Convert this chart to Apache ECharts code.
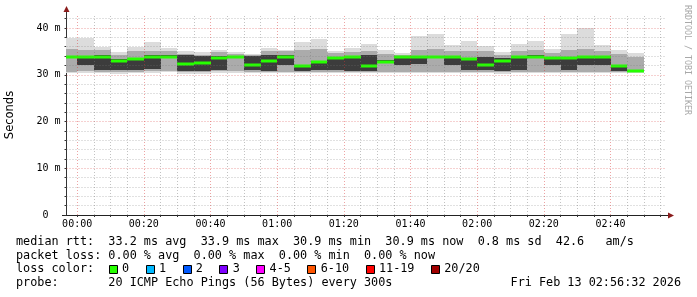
<!DOCTYPE html>
<html><head><meta charset="utf-8">
<script src="https://cdn.jsdelivr.net/npm/echarts@6/dist/echarts.min.js"></script>
<style>html,body{margin:0;padding:0;background:#fff}#c{width:697px;height:297px}</style>
</head><body><div id="c"></div>
<script>
// 5-minute slots (end time of each RRD step)
const times = ["00:00","00:05","00:10","00:15","00:20","00:25","00:30","00:35","00:40","00:45",
  "00:50","00:55","01:00","01:05","01:10","01:15","01:20","01:25","01:30","01:35",
  "01:40","01:45","01:50","01:55","02:00","02:05","02:10","02:15","02:20","02:25",
  "02:30","02:35","02:40","02:45","02:50"];
// median RTT (ms)
const medianRtt = [33.9,33.8,33.8,33.0,33.3,33.9,33.9,32.4,32.6,33.65,
  33.7,32.15,32.9,33.8,31.9,32.65,33.6,33.7,31.9,32.8,
  33.8,33.8,33.8,33.8,33.4,32.15,33.0,33.9,33.9,33.6,
  33.65,33.9,33.8,31.9,30.9];
// outer smoke (lightest): min / max ping
const smokeMin = [30.3,30.4,30.3,30.2,30.3,30.4,30.5,30.2,30.2,30.4,
  30.4,30.3,30.3,30.3,30.4,30.4,30.3,30.3,30.3,30.4,
  30.4,30.4,30.4,30.4,30.3,30.3,30.2,30.3,30.3,30.4,
  30.3,30.3,30.3,30.3,30.3];
const smokeMax = [37.9,37.9,36.0,34.8,36.0,36.9,35.8,35.1,34.8,35.3,
  34.9,34.4,35.8,35.3,37.1,37.6,35.1,35.8,36.6,35.3,
  34.6,38.3,38.7,36.4,37.2,36.15,34.9,36.6,37.2,35.6,
  38.7,40.1,36.4,35.3,34.6];
// middle smoke band
const midLo = [30.6,30.7,30.6,30.5,30.6,30.7,30.8,30.5,30.5,30.7,
  30.7,30.6,30.6,30.6,30.6,30.6,30.6,30.6,30.6,30.6,
  30.6,30.6,30.6,30.6,30.6,30.6,30.5,30.6,30.6,30.6,
  30.6,30.6,30.6,30.6,30.5];
const midHi = [35.6,35.2,35.3,34.3,35.0,35.0,35.0,34.5,34.3,34.8,
  34.5,34.2,35.0,35.0,35.3,35.5,34.6,34.8,35.0,34.5,
  34.3,35.3,35.5,35.0,35.0,35.0,34.3,35.0,35.3,34.6,
  35.3,35.5,35.0,34.5,33.9];
// dense core band
const coreLo = [33.9,32.1,31.0,31.0,31.0,31.2,33.6,30.9,30.8,31.0,
  33.5,31.0,30.7,32.1,30.7,31.0,31.0,30.7,30.7,32.5,
  32.1,32.3,33.5,32.1,31.0,31.0,30.9,31.0,33.7,32.1,
  31.0,32.1,32.1,30.8,30.9];
const coreHi = [33.9,33.9,34.3,33.3,33.6,34.3,34.2,34.2,34.0,34.0,
  34.0,34.0,34.2,34.2,32.0,32.7,33.8,33.9,34.2,33.2,
  33.9,33.9,34.0,33.9,33.5,33.7,33.6,34.0,34.2,33.9,
  33.8,34.0,33.9,32.0,30.9];

const xLabels = ["00:00","00:20","00:40","01:00","01:20","01:40","02:00","02:20","02:40"];
const yLabels = ["0  ","10 m","20 m","30 m","40 m"];
const yLabelValues = [0,10,20,30,40];
const lossLabels = ["0","1","2","3","4-5","6-10","11-19","20/20"];
const lossColors = ["#26ff00","#00b8ff","#0059ff","#7e00ff","#ff00ff","#ff5500","#ff0000","#a10000"];
const statsRtt = "median rtt:  33.2 ms avg  33.9 ms max  30.9 ms min  30.9 ms now  0.8 ms sd  42.6   am/s";
const statsLoss = "packet loss: 0.00 % avg  0.00 % max  0.00 % min  0.00 % now";
const lossTitle = "loss color:";
const probeLine = "probe:       20 ICMP Echo Pings (56 Bytes) every 300s";
const dateLine = "Fri Feb 13 02:56:32 2026";
const sideText = "RRDTOOL / TOBI OETIKER";

function toMin(t){ const p=t.split(':').map(Number); return (p[0]>=12?(p[0]-24):p[0])*60+p[1]; }

const smokeData = times.map((t,i)=>{ const e=toMin(t); return [e-5,e,smokeMin[i],smokeMax[i],midLo[i],midHi[i],coreLo[i],coreHi[i]]; });
const medData = times.map((t,i)=>{ const e=toMin(t); return [e-5,e,medianRtt[i]]; });

function rectFrom(api,s,e,lo,hi,fill){
  const a=api.coord([s,hi]), b=api.coord([e,lo]);
  const x0=Math.round(a[0]), x1=Math.round(b[0]), y0=Math.round(a[1]), y1=Math.round(b[1]);
  return {type:'rect', shape:{x:x0,y:y0,width:x1-x0,height:y1-y0}, style:{fill:fill}};
}
function smokeItem(params, api){
  const s=api.value(0), e=api.value(1);
  return {type:'group', children:[
    rectFrom(api,s,e,api.value(2),api.value(3),'#dcdcdc'),
    rectFrom(api,s,e,api.value(4),api.value(5),'#ababab'),
    rectFrom(api,s,e,api.value(6),api.value(7),'#3c3c3c')
  ]};
}
function medItem(params, api){
  const s=api.value(0), e=api.value(1);
  const a=api.coord([s,api.value(2)]), b=api.coord([e,api.value(2)]);
  const x0=Math.round(a[0]), x1=Math.round(b[0]), y=Math.round(a[1]);
  return {type:'rect', shape:{x:x0,y:y-1.5,width:x1-x0,height:3}, style:{fill:lossColors[0]}};
}

const minorY=[], majorY=[], minorX=[], majorX=[];
for(let v=2; v<=42; v+=2){ (v%10===0?majorY:minorY).push({yAxis:v}); }
for(let m=5; m<=175; m+=5){ (m%20===0?majorX:minorX).push({xAxis:m}); }
majorX.unshift({xAxis:0});
const yTicks=[]; for(let v=0; v<=42; v+=2) yTicks.push(v);
const xTicks=[]; for(let m=0; m<=175; m+=5) xTicks.push(m);

const mono='"DejaVu Sans Mono", monospace';
const FS=11.8, CW=FS*0.602;
const graphics=[];
// axis extensions + arrows
graphics.push({type:'line', shape:{x1:66.5,y1:15,x2:66.5,y2:10}, style:{stroke:'#333',lineWidth:1}, silent:true});
graphics.push({type:'polygon', shape:{points:[[66.5,6],[63.5,12],[69.5,12]]}, style:{fill:'#8a1c1c'}, silent:true});
graphics.push({type:'line', shape:{x1:62,y1:215.5,x2:669,y2:215.5}, style:{stroke:'#222',lineWidth:1}, silent:true});
graphics.push({type:'polygon', shape:{points:[[674,215.5],[668,212.5],[668,218.5]]}, style:{fill:'#8a1c1c'}, silent:true});
// side credit
graphics.push({type:'text', x:687, y:60, rotation:-Math.PI/2, silent:true,
  style:{text:sideText, font:'8.3px '+mono, fill:'#a8a8a8', align:'center', verticalAlign:'middle'}});
// legend rows
const rowY=[241.5,255.5,269.3,283.3];
graphics.push({type:'text', x:16, y:rowY[0], style:{text:statsRtt, font:FS+'px '+mono, fill:'#000', align:'left', verticalAlign:'middle'}});
graphics.push({type:'text', x:16, y:rowY[1], style:{text:statsLoss, font:FS+'px '+mono, fill:'#000', align:'left', verticalAlign:'middle'}});
graphics.push({type:'text', x:16, y:rowY[2], style:{text:lossTitle, font:FS+'px '+mono, fill:'#000', align:'left', verticalAlign:'middle'}});
graphics.push({type:'text', x:16, y:rowY[3], style:{text:probeLine, font:FS+'px '+mono, fill:'#000', align:'left', verticalAlign:'middle'}});
graphics.push({type:'text', x:681, y:rowY[3], style:{text:dateLine, font:FS+'px '+mono, fill:'#000', align:'right', verticalAlign:'middle'}});
let bx=108.7;
lossLabels.forEach((lab,i)=>{
  graphics.push({type:'rect', shape:{x:Math.round(bx)+0.5,y:265.5,width:8,height:8}, style:{fill:lossColors[i],stroke:'#000',lineWidth:1}});
  graphics.push({type:'text', x:bx+13.3, y:rowY[2], style:{text:lab, font:FS+'px '+mono, fill:'#000', align:'left', verticalAlign:'middle'}});
  bx += 13.5 + lab.length*CW + 16.3;
});

const gridLine=(color)=>({silent:true, symbol:'none', animation:false, label:{show:false},
  lineStyle:{color:color, type:[1,2], width:1}, emphasis:{disabled:true}});

const chart=echarts.init(document.getElementById('c'), null, {renderer:'canvas'});
chart.setOption({
  animation:false,
  backgroundColor:'#ffffff',
  grid:{left:66.5, top:15, width:600, height:200, containLabel:false, outerBoundsMode:'none'},
  xAxis:{type:'value', min:-3.2, max:176.8,
    axisLine:{show:true, onZero:false, lineStyle:{color:'#222', width:1}},
    axisTick:{show:true, customValues:xTicks, length:2, lineStyle:{color:'#333'}},
    axisLabel:{customValues:xLabels.map(toMin), margin:4, color:'#000', fontSize:10, fontFamily:'DejaVu Sans Mono',
      formatter:(v)=>{ const i=xLabels.map(toMin).indexOf(Math.round(v)); return i>=0?xLabels[i]:''; }},
    splitLine:{show:false}},
  yAxis:{type:'value', min:0, max:200/4.675,
    name:'Seconds', nameLocation:'middle', nameRotate:90, nameGap:50,
    nameTextStyle:{fontFamily:'DejaVu Sans', fontSize:11.5, color:'#000'},
    axisLine:{show:true, onZero:false, lineStyle:{color:'#333', width:1}},
    axisTick:{show:true, customValues:yTicks, length:2, lineStyle:{color:'#333'}},
    axisLabel:{customValues:yLabelValues, margin:6, color:'#000', fontSize:10, fontFamily:'DejaVu Sans Mono',
      formatter:(v)=>{ const i=yLabelValues.indexOf(Math.round(v)); return i>=0?yLabels[i]:''; }},
    splitLine:{show:false}},
  graphic:graphics,
  series:[
    {type:'custom', name:'smoke', renderItem:smokeItem, data:smokeData, clip:true, z:1,
      encode:{x:[0,1], y:[2,3]}, silent:true},
    {type:'line', name:'grid-minor', data:[], z:2, silent:true,
      markLine:Object.assign(gridLine('rgba(120,120,120,0.45)'), {data:minorY.concat(minorX)})},
    {type:'line', name:'grid-major', data:[], z:2, silent:true,
      markLine:Object.assign(gridLine('rgba(215,50,50,0.45)'), {data:majorY.concat(majorX)})},
    {type:'custom', name:'median rtt', renderItem:medItem, data:medData, clip:true, z:3,
      encode:{x:[0,1], y:2}, silent:true}
  ]
});
</script></body></html>
